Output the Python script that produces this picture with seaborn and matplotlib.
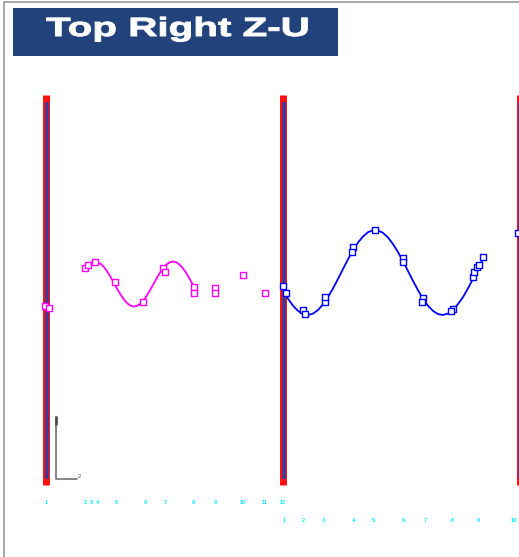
import numpy as np
import pandas as pd
import seaborn as sns
import matplotlib
matplotlib.use('Agg')
import matplotlib.pyplot as plt
from matplotlib import patheffects
from matplotlib.transforms import Affine2D
from matplotlib.patches import Rectangle

title = 'Top Right Z-U'

# trace 1 (magenta) : sample index, amplitude
mag_x = [38, 41, 44, 47, 50, 53, 56, 59, 62, 65, 68, 71, 74, 77, 80, 83, 86, 89, 92, 95, 98, 101, 104,
         107, 110, 113, 116, 119, 122, 125, 128, 131, 134, 137, 140, 143, 146, 149, 150]
mag_y = [18.8, 22.9, 25.9, 27.8, 28.5, 27.8, 25.9, 22.9, 18.8, 14.0, 8.7, 3.3, -2.0, -6.8, -10.8, -13.9,
         -15.8, -16.5, -15.8, -13.9, -10.8, -6.8, -2.0, 3.3, 8.7, 14.0, 18.8, 22.9, 25.9, 27.8, 28.5, 27.8,
         25.9, 22.9, 18.8, 14.0, 8.7, 3.3, 1.5]
mag_pts_x = [0, 4, 40, 43, 50, 70, 98, 118, 120, 149, 149, 170, 170, 198, 220]
mag_pts_y = [-16, -18, 22, 25, 28, 8, -12, 22, 18, 3, -3, 2, -3, 15, -3]

# trace 2 (blue)
blu_x = [238, 243, 248, 253, 258, 263, 268, 273, 278, 283, 288, 293, 298, 303, 308, 313, 318, 323, 328,
         333, 338, 343, 348, 353, 358, 363, 368, 373, 378, 383, 388, 393, 398, 403, 408, 413, 418, 423,
         428, 433, 436, 439]
blu_y = [1, -8.7, -15.7, -20.9, -24.1, -25.0, -23.6, -20.0, -14.4, -7.1, 1.6, 11.1, 21.0, 30.6, 39.6,
         47.4, 53.5, 57.8, 59.8, 59.6, 57.1, 52.5, 45.9, 37.9, 28.8, 19.0, 9.1, -0.2, -8.7, -15.7, -20.9,
         -24.1, -25.0, -23.6, -20.0, -14.1, -7.1, 1.6, 11.1, 21.0, 26.8, 32.5]
blu_pts_x = [238, 241, 258, 260, 280, 280, 308, 307, 330, 358, 358, 378, 377, 408, 406, 428, 429, 432, 434, 438, 473]
blu_pts_y = [4, -3, -20, -24, -12, -7, 43, 38, 60, 32, 28, -8, -12, -19, -21, 13, 18, 23, 25, 33, 57]

# pick annotations (two rows under the traces)
lab1_x = [1, 40, 46, 52, 71, 100, 120, 148, 170, 198, 220, 238]
lab2_x = [239, 258, 278, 308, 328, 358, 380, 407, 433, 469]

# station bars (sample index) and their extent
bar_x = [1, 238, 474.5]
bar_top, bar_bot = 195, -195

sns.set_style('white')
plt.rcParams['font.family'] = ['Liberation Sans', 'DejaVu Sans']

fig = plt.figure(figsize=(5.19, 5.57), dpi=100)
ax = fig.add_axes([0, 0, 1, 1])
ax.set_xlim(-45, 474)
ax.set_ylim(-267, 290)
ax.axis('off')

# outer frame
fig.add_artist(plt.Line2D([4 / 519, 4 / 519], [0, 1 - 1.5 / 557], color='#9a9a9a', lw=1.2))
fig.add_artist(plt.Line2D([4 / 519, 1], [1 - 1.5 / 557, 1 - 1.5 / 557], color='#9a9a9a', lw=1.2))

# title box
fig.add_artist(Rectangle((13 / 519, 1 - 56 / 557), 325 / 519, 48 / 557,
                         transform=fig.transFigure, color='#21427a', lw=0))


class Stretch(patheffects.AbstractPathEffect):
    # wide, heavy lettering like the original banner
    def __init__(self, sx, stroke):
        super().__init__()
        self.sx = sx
        self.stroke = stroke

    def draw_path(self, renderer, gc, tpath, affine, rgbFace=None):
        gc0 = renderer.new_gc()
        gc0.copy_properties(gc)
        gc0.set_linewidth(self.stroke)
        gc0.set_foreground(rgbFace)
        gc0.set_joinstyle('round')
        renderer.draw_path(gc0, tpath, Affine2D().scale(self.sx, 1) + affine, rgbFace)
        gc0.restore()


fig.text(46 / 519, 1 - 36 / 557, title, color='white', fontsize=19, fontweight='bold',
         ha='left', va='baseline', path_effects=[Stretch(1.53, 0.7)])

# station bars
for bx in bar_x:
    ax.plot([bx, bx], [bar_bot, bar_top], color='#ff1010', lw=5, solid_capstyle='butt', zorder=2)
    ax.plot([bx + 0.5, bx + 0.5], [bar_bot + 6, bar_top - 7], color='#3c3c96', lw=2.6,
            solid_capstyle='butt', zorder=3)

# traces
sns.lineplot(x=mag_x, y=mag_y, sort=False, color='#ff00ff', lw=1.3, ax=ax, zorder=4)
sns.lineplot(x=blu_x, y=blu_y, sort=False, color='#0000ff', lw=1.3, ax=ax, zorder=4)
sns.scatterplot(x=mag_pts_x, y=mag_pts_y, marker='s', s=14, facecolor='white',
                edgecolor='#ff00ff', linewidth=1, ax=ax, zorder=5)
sns.scatterplot(x=blu_pts_x, y=blu_pts_y, marker='s', s=14, facecolor='white',
                edgecolor='#0000ff', linewidth=1, ax=ax, zorder=5)

# pick labels
for i, px in enumerate(lab1_x):
    ax.text(px, -213, str(i + 1), color='#00f0ff', fontsize=4, fontweight='bold',
            ha='center', va='center')
for i, px in enumerate(lab2_x):
    ax.text(px, -231, str(i + 1), color='#00f0ff', fontsize=4, fontweight='bold',
            ha='center', va='center')

# scale bar
ax.plot([11, 11, 32], [-127, -189, -189], color='#707070', lw=1.2)
ax.plot([11, 11], [-127, -134], color='#505050', lw=2)
ax.text(33, -186, '2', color='#505050', fontsize=4, ha='left', va='center')

fig.savefig('out.png', dpi=100)
